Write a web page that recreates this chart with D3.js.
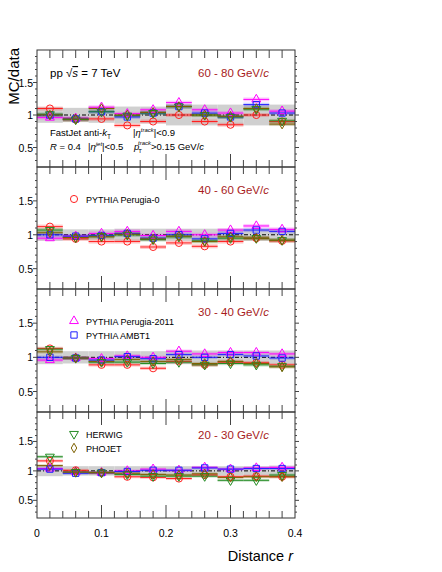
<!DOCTYPE html>
<html>
<head>
<meta charset="utf-8">
<script src="https://cdn.jsdelivr.net/npm/d3@7"></script>
<style>
  body { margin: 0; background: #fff; }
  svg { font-family: "Liberation Sans", Arial, sans-serif; }
</style>
</head>
<body>
<div id="chart"></div>
<script>
const R_CENTERS = [0.02, 0.06, 0.10, 0.14, 0.18, 0.22, 0.26, 0.30, 0.34, 0.38];
const BIN_HALF = 0.02;
const PT_LABELS = ["60 - 80", "40 - 60", "30 - 40", "20 - 30"];
const X_TICKS = [0, 0.1, 0.2, 0.3, 0.4];
const Y_TICKS = [0.5, 1, 1.5];

// one row per pT panel (top to bottom), one value per r bin
const perugia0 = [
  [1.10, 0.93, 0.94, 0.84, 0.90, 1.00, 0.90, 0.85, 1.00, 0.90],
  [1.12, 0.94, 0.90, 0.90, 0.82, 0.88, 0.83, 0.90, 0.95, 0.91],
  [1.13, 0.99, 0.89, 0.89, 0.84, 0.94, 0.89, 0.93, 0.92, 0.89],
  [1.17, 1.01, 0.97, 0.90, 0.89, 0.87, 0.93, 0.90, 0.91, 0.90]
];
const perugia2011 = [
  [0.96, 0.95, 1.12, 1.02, 1.08, 1.19, 1.08, 1.03, 1.24, 1.06],
  [0.95, 0.98, 1.02, 1.05, 0.99, 1.05, 1.00, 1.07, 1.13, 1.08],
  [0.96, 0.99, 0.98, 1.02, 1.00, 1.09, 1.05, 1.07, 1.07, 1.05],
  [1.04, 0.98, 0.97, 1.00, 1.03, 1.01, 1.06, 1.03, 1.05, 1.06]
];
const ambt1 = [
  [1.00, 0.94, 1.05, 0.97, 1.03, 1.13, 1.03, 0.97, 1.16, 1.03],
  [1.00, 0.98, 0.99, 1.02, 0.95, 1.00, 0.94, 1.02, 1.07, 1.05],
  [1.00, 0.99, 0.96, 1.01, 0.98, 1.04, 1.00, 1.04, 1.02, 0.99],
  [1.03, 0.96, 0.97, 0.99, 1.01, 1.01, 1.05, 1.03, 1.04, 1.04]
];
const herwig = [
  [1.01, 0.93, 1.05, 0.99, 1.03, 1.13, 1.00, 0.97, 1.09, 0.91],
  [1.07, 0.96, 0.98, 1.00, 0.93, 0.97, 0.91, 0.95, 0.95, 0.92],
  [1.12, 0.99, 0.93, 0.93, 0.91, 0.93, 0.89, 0.91, 0.89, 0.87],
  [1.24, 0.98, 0.97, 0.94, 0.91, 0.91, 0.91, 0.84, 0.84, 0.93]
];
const phojet = [
  [1.00, 0.94, 1.10, 1.00, 1.04, 1.13, 1.00, 0.98, 1.10, 0.86],
  [1.03, 0.96, 0.97, 1.01, 0.94, 0.98, 0.90, 0.97, 0.95, 0.92],
  [1.08, 0.99, 0.94, 0.97, 0.94, 0.97, 0.91, 0.94, 0.91, 0.86],
  [1.09, 0.98, 0.97, 0.96, 0.94, 0.93, 0.95, 0.89, 0.90, 0.90]
];
// data systematic uncertainty (grey band half-height)
const dataSyst = [
  [0.12, 0.11, 0.12, 0.13, 0.13, 0.16, 0.16, 0.16, 0.16, 0.16],
  [0.09, 0.08, 0.08, 0.09, 0.09, 0.09, 0.09, 0.09, 0.09, 0.09],
  [0.10, 0.09, 0.09, 0.09, 0.09, 0.10, 0.10, 0.10, 0.10, 0.10],
  [0.09, 0.08, 0.08, 0.08, 0.08, 0.08, 0.08, 0.08, 0.08, 0.09]
];
// MC statistical uncertainty per panel
const mcErr = [0.03, 0.03, 0.025, 0.025];

const series = [
  { name: "PYTHIA Perugia-0", values: perugia0, color: "#ff2020", band: "rgba(255,60,60,0.28)", symbol: d3.symbolCircle, size: 40, rot: 0 },
  { name: "PYTHIA Perugia-2011", values: perugia2011, color: "#ff00ff", band: "rgba(255,0,255,0.22)", symbol: d3.symbolTriangle, size: 34, rot: 0 },
  { name: "PYTHIA AMBT1", values: ambt1, color: "#2020ff", band: "rgba(40,40,255,0.22)", symbol: d3.symbolSquare, size: 40, rot: 0 },
  { name: "HERWIG", values: herwig, color: "#228b22", band: "rgba(34,139,34,0.25)", symbol: d3.symbolTriangle, size: 34, rot: 180 },
  { name: "PHOJET", values: phojet, color: "#7d6000", band: "rgba(125,96,0,0.22)", symbol: d3.symbolDiamond, size: 26, rot: 0 }
];

const W = 442, H = 572;
const X0 = 37, X1 = 295;
const panelEdges = [50, 167, 289, 412, 518];

const svg = d3.select("#chart").append("svg").attr("width", W).attr("height", H);

const x = d3.scaleLinear().domain([0, 0.4]).range([X0, X1]);

const legendSlots = [[], [0], [1, 2], [3, 4]];

PT_LABELS.forEach((label, p) => {
  const top = panelEdges[p], bottom = panelEdges[p + 1];
  const y = d3.scaleLinear().domain([0.2, 2.0]).range([bottom, top]);
  const g = svg.append("g");

  // data grey band
  g.selectAll("rect.syst").data(R_CENTERS).join("rect")
    .attr("x", d => x(d - BIN_HALF)).attr("width", x(0.04) - x(0))
    .attr("y", (d, i) => y(1 + dataSyst[p][i]))
    .attr("height", (d, i) => y(1 - dataSyst[p][i]) - y(1 + dataSyst[p][i]))
    .attr("fill", "#d0d0d0");

  g.append("line").attr("x1", X0).attr("x2", X1).attr("y1", y(1)).attr("y2", y(1))
    .attr("stroke", "#000").attr("stroke-width", 1).attr("stroke-dasharray", "4,2,1,2");

  series.forEach(s => {
    g.selectAll(null).data(s.values[p]).join("rect")
      .attr("x", (d, i) => x(R_CENTERS[i] - BIN_HALF)).attr("width", x(0.04) - x(0))
      .attr("y", d => y(d + mcErr[p])).attr("height", d => y(d - mcErr[p]) - y(d + mcErr[p]))
      .attr("fill", s.band);
  });
  series.forEach(s => {
    g.selectAll(null).data(s.values[p]).join("line")
      .attr("x1", (d, i) => x(R_CENTERS[i] - BIN_HALF)).attr("x2", (d, i) => x(R_CENTERS[i] + BIN_HALF))
      .attr("y1", d => y(d)).attr("y2", d => y(d))
      .attr("stroke", s.color).attr("stroke-width", 1);
  });
  series.forEach(s => {
    const sym = d3.symbol().type(s.symbol).size(s.size);
    g.selectAll(null).data(s.values[p]).join("path")
      .attr("d", sym)
      .attr("transform", (d, i) => `translate(${x(R_CENTERS[i])},${y(d)}) rotate(${s.rot})`)
      .attr("fill", "none").attr("stroke", s.color).attr("stroke-width", 1);
  });

  // frame
  g.append("rect").attr("x", X0).attr("y", top).attr("width", X1 - X0).attr("height", bottom - top)
    .attr("fill", "none").attr("stroke", "#333").attr("stroke-width", 1);

  // x ticks, top (down) and bottom (up)
  const xt = d3.range(0, 0.4001, 0.02);
  xt.forEach((v, i) => {
    const major = i % 5 === 0;
    if (i === 0 || i === xt.length - 1) return;
    const lenTop = p === 0 ? 8 : (major ? 13 : 7);
    const lenBot = major ? 13 : 7;
    g.append("line").attr("x1", x(v)).attr("x2", x(v)).attr("y1", top).attr("y2", top + lenTop)
      .attr("stroke", "#444");
    g.append("line").attr("x1", x(v)).attr("x2", x(v)).attr("y1", bottom).attr("y2", bottom - lenBot)
      .attr("stroke", "#444");
  });

  // y ticks, both sides
  d3.range(0.3, 2.0, 0.1).forEach((v, i) => {
    const major = Math.abs(v * 2 - Math.round(v * 2)) < 1e-6;
    const len = major ? 4 : 2;
    g.append("line").attr("x1", X0 - len).attr("x2", X0).attr("y1", y(v)).attr("y2", y(v)).attr("stroke", "#444");
    g.append("line").attr("x1", X1).attr("x2", X1 + len).attr("y1", y(v)).attr("y2", y(v)).attr("stroke", "#444");
  });

  Y_TICKS.forEach(v => {
    g.append("text").attr("x", 33).attr("y", y(v) + 4).attr("text-anchor", "end")
      .attr("font-size", 10.5).text(d3.format("")(v));
  });

  // pT label
  const pt = g.append("text").attr("x", 198).attr("y", p === 0 ? 77 : top + 27)
    .attr("font-size", 11.5).attr("fill", "#a81c1c");
  pt.append("tspan").text(label + " GeV/");
  pt.append("tspan").attr("font-style", "italic").text("c");

  // legend entries
  legendSlots[p].forEach((si, k) => {
    const s = series[si];
    const ly = top + (p === 3 ? 22 : 32) + k * 14;
    g.append("path").attr("d", d3.symbol().type(s.symbol).size(s.size))
      .attr("transform", `translate(74,${ly}) rotate(${s.rot})`)
      .attr("fill", "none").attr("stroke", s.color);
    g.append("text").attr("x", 86).attr("y", ly + 3.5).attr("font-size", 9).text(s.name);
  });
});

// top panel annotations
const ann = svg.append("g").attr("font-size", 11.5);
const pp = ann.append("text").attr("x", 50).attr("y", 77);
pp.append("tspan").text("pp √");
pp.append("tspan").attr("font-style", "italic").attr("text-decoration", "overline").text("s");
pp.append("tspan").text(" = 7 TeV");

const small = svg.append("g").attr("font-size", 9.5);
const t1 = small.append("text").attr("x", 50).attr("y", 136);
t1.append("tspan").text("FastJet anti-");
t1.append("tspan").attr("font-style", "italic").text("k");
t1.append("tspan").attr("font-size", 6.5).attr("dy", 2.5).text("T");

const t2 = small.append("text").attr("x", 133).attr("y", 136);
t2.append("tspan").text("|");
t2.append("tspan").attr("font-style", "italic").text("η");
t2.append("tspan").attr("font-size", 6).attr("dy", -4).attr("font-style", "italic").text("track");
t2.append("tspan").attr("dy", 4).text("|<0.9");

const t3 = small.append("text").attr("x", 50).attr("y", 150);
t3.append("tspan").attr("font-style", "italic").text("R");
t3.append("tspan").text(" = 0.4");

const t4 = small.append("text").attr("x", 88).attr("y", 150);
t4.append("tspan").text("|");
t4.append("tspan").attr("font-style", "italic").text("η");
t4.append("tspan").attr("font-size", 6).attr("dy", -4).attr("font-style", "italic").text("jet");
t4.append("tspan").attr("dy", 4).text("|<0.5");

const t5 = small.append("text").attr("x", 134).attr("y", 150);
t5.append("tspan").attr("font-style", "italic").text("p");
t5.append("tspan").attr("font-size", 6).attr("dx", -1).attr("dy", 3).text("T");
t5.append("tspan").attr("font-size", 6).attr("font-style", "italic").attr("dx", -4).attr("dy", -8).text("track");
t5.append("tspan").attr("dy", 5).text(">0.15 GeV/");
t5.append("tspan").attr("font-style", "italic").text("c");

// x tick labels
X_TICKS.forEach(v => {
  svg.append("text").attr("x", x(v)).attr("y", 537).attr("text-anchor", "middle")
    .attr("font-size", 10.5).text(v === 0 ? "0" : d3.format(".1f")(v));
});

// axis titles
const xt = svg.append("text").attr("x", 293).attr("y", 561).attr("text-anchor", "end").attr("font-size", 14.5);
xt.append("tspan").text("Distance ");
xt.append("tspan").attr("font-style", "italic").text("r");

svg.append("text").attr("transform", "translate(19,48) rotate(-90)")
  .attr("text-anchor", "end").attr("font-size", 15).text("MC/data");
</script>
</body>
</html>
